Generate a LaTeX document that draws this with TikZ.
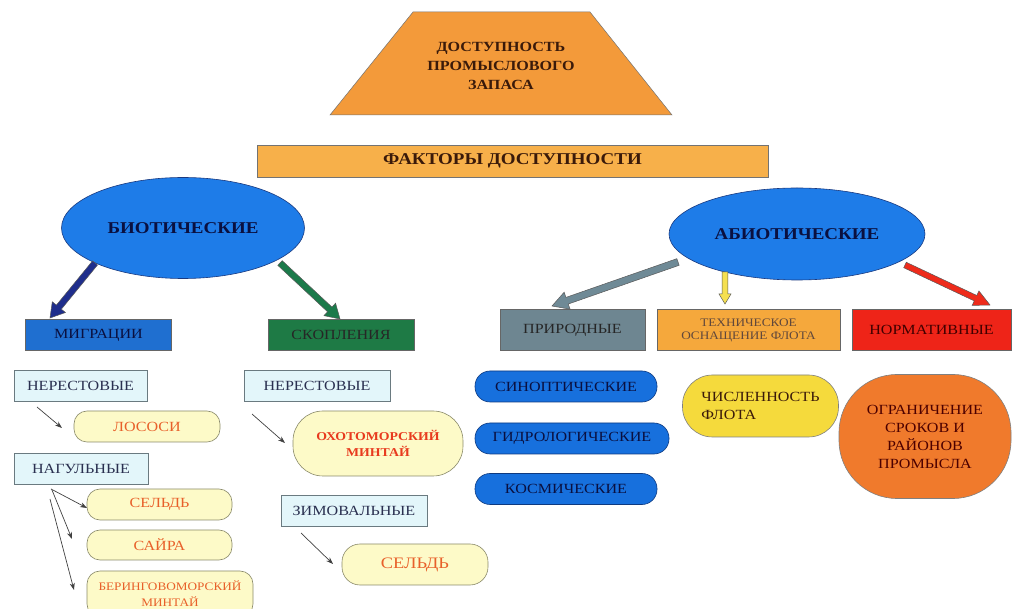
\documentclass[tikz,border=0pt]{standalone}
\usepackage{fontspec}
\setmainfont{Liberation Serif}[FakeStretch=1.15]
\usetikzlibrary{calc,arrows.meta,shapes.geometric}
\definecolor{trapfill}{HTML}{F39A3A}
\definecolor{barfill}{HTML}{F7B04A}
\definecolor{ellfill}{HTML}{1E7CE8}
\definecolor{elldraw}{HTML}{1A3A80}
\definecolor{navyarr}{HTML}{1F2E8C}
\definecolor{greenarr}{HTML}{1B7A4A}
\definecolor{greyarr}{HTML}{6F8A96}
\definecolor{yellarr}{HTML}{F5E050}
\definecolor{redarr}{HTML}{EE2B1B}
\definecolor{migfill}{HTML}{1F6FD0}
\definecolor{skofill}{HTML}{1E7A45}
\definecolor{prifill}{HTML}{6E8691}
\definecolor{techfill}{HTML}{F5A83C}
\definecolor{normfill}{HTML}{EE2418}
\definecolor{cyanfill}{HTML}{E3F6FA}
\definecolor{cyandraw}{HTML}{6A7A80}
\definecolor{lyfill}{HTML}{FDFAC8}
\definecolor{lydraw}{HTML}{8A8A6A}
\definecolor{bluestad}{HTML}{1770DD}
\definecolor{bluestaddraw}{HTML}{0E3A80}
\definecolor{numfill}{HTML}{F5DA3C}
\definecolor{limfill}{HTML}{F07A2C}
\definecolor{brown}{HTML}{3A1A0A}
\definecolor{navytxt}{HTML}{0A1040}
\definecolor{orangetxt}{HTML}{E8602A}
\definecolor{redtxt}{HTML}{E83A1E}
\definecolor{slatetxt}{HTML}{2A3050}
\newcommand\fatarrow[6]{%
  \coordinate (fatH) at ($(#2)!#6!(#1)$);
  \draw[fill=#3, draw=black!65, line width=0.5pt, line join=miter]
    ($(#1)!#4!90:(#2)$) -- ($(fatH)!#4!90:(#2)$) -- ($(fatH)!#5!90:(#2)$)
    -- (#2) -- ($(fatH)!#5!-90:(#2)$) -- ($(fatH)!#4!-90:(#2)$)
    -- ($(#1)!#4!-90:(#2)$) -- cycle;}
\begin{document}
\begin{tikzpicture}[x=1pt,y=-1pt,
  catbox/.style={draw=black!60, line width=0.5pt, inner sep=0pt, font=\fontsize{14}{16}\selectfont},
  cyanbox/.style={draw=cyandraw, fill=cyanfill, line width=0.6pt, inner sep=0pt, minimum height=31, text=slatetxt, font=\fontsize{14}{16}\selectfont},
  lybox/.style={draw=lydraw, fill=lyfill, line width=0.6pt, inner sep=0pt, rounded corners=13, minimum height=31, text=orangetxt, font=\fontsize{14}{16}\selectfont},
  bluebox/.style={draw=bluestaddraw, fill=bluestad, line width=0.6pt, inner sep=0pt, rounded corners=15, minimum height=31, text=navytxt, font=\fontsize{14}{16}\selectfont},
  smallarr/.style={draw=black!75, line width=0.7pt, -{Stealth[length=7pt,width=5pt]}},
  bigell/.style={ellipse, draw=elldraw, fill=ellfill, line width=0.6pt, inner sep=0pt, text=navytxt, font=\bfseries\fontsize{16.5}{18}\selectfont}
]
\useasboundingbox (0,0) rectangle (1013,609);
% top
\draw[fill=trapfill, draw=black!55, line width=0.5pt] (413,12) -- (590,12) -- (672,115) -- (330,115) -- cycle;
\node[align=center, text=brown, font=\bfseries\fontsize{14}{19}\selectfont] (top) at (501,66) {ДОСТУПНОСТЬ\\ПРОМЫСЛОВОГО\\ЗАПАСА};
\node[draw=black!55, fill=barfill, line width=0.5pt, minimum width=511, minimum height=32, inner sep=0pt, text=brown, font=\bfseries\fontsize{16.5}{18}\selectfont] (fac) at (512.5,161) {ФАКТОРЫ ДОСТУПНОСТИ};
% ellipses
\node[bigell, minimum width=243, minimum height=101] (bio) at (183,228) {БИОТИЧЕСКИЕ};
\node[bigell, minimum width=256, minimum height=92] (abio) at (797,234) {АБИОТИЧЕСКИЕ};
% category boxes
\node[catbox, fill=migfill, minimum width=146, minimum height=31, text=navytxt] (mig) at (98.5,335) {МИГРАЦИИ};
\node[catbox, fill=skofill, minimum width=146, minimum height=31, text=black!85] (sko) at (341,335) {СКОПЛЕНИЯ};
\node[catbox, fill=prifill, minimum width=145, minimum height=41, text=black!85] (pri) at (572.5,330) {ПРИРОДНЫЕ};
\node[catbox, fill=techfill, minimum width=183, minimum height=41, align=center, text=brown!80, font=\fontsize{11.5}{13}\selectfont] (tech) at (748.5,330) {ТЕХНИЧЕСКОЕ\\ОСНАЩЕНИЕ ФЛОТА};
\node[catbox, fill=normfill, minimum width=159, minimum height=41, text=black!75!red, font=\fontsize{14}{16}\selectfont] (norm) at (931.5,330) {НОРМАТИВНЫЕ};
% fat arrows
\coordinate (b1) at (95,263); \coordinate (m1) at (50,318);
\coordinate (b2) at (280,263); \coordinate (s1) at (340,319);
\coordinate (a1) at (678,262); \coordinate (p1) at (552,306);
\coordinate (a2) at (725,272); \coordinate (t1) at (725,304);
\coordinate (a3) at (905,265); \coordinate (n1) at (990,305);
\fatarrow{b1}{m1}{navyarr}{3.2pt}{8.5pt}{14pt}
\fatarrow{b2}{s1}{greenarr}{3.2pt}{8.5pt}{14pt}
\fatarrow{a1}{p1}{greyarr}{3.5pt}{9pt}{16pt}
\fatarrow{a2}{t1}{yellarr}{2.8pt}{6pt}{10pt}
\fatarrow{a3}{n1}{redarr}{3pt}{8pt}{16pt}
% left column
\node[cyanbox, minimum width=133] (ner1) at (80.5,386) {НЕРЕСТОВЫЕ};
\node[lybox, minimum width=146] (los) at (147,426.5) {ЛОСОСИ};
\node[cyanbox, minimum width=134] (nag) at (81,468.5) {НАГУЛЬНЫЕ};
\node[lybox, minimum width=145] (sel1) at (159.5,504.5) {СЕЛЬДЬ};
\node[lybox, minimum width=145, minimum height=30] (say) at (159.5,545) {САЙРА};
\node[lybox, minimum width=166, minimum height=46, align=center, font=\fontsize{11.5}{16}\selectfont] (ber) at (170,594) {БЕРИНГОВОМОРСКИЙ\\МИНТАЙ};
\coordinate (c1) at (37,407); \coordinate (c2) at (62,428);
\coordinate (c3) at (51,489); \coordinate (c4) at (87,508);
\coordinate (c5) at (52,490); \coordinate (c6) at (72,539);
\coordinate (c7) at (50,499); \coordinate (c8) at (74,590);
\draw[smallarr] (c1) -- (c2);
\draw[smallarr] (c3) -- (c4);
\draw[smallarr] (c5) -- (c6);
\draw[smallarr] (c7) -- (c8);
% middle column
\node[cyanbox, minimum width=146] (ner2) at (317,386) {НЕРЕСТОВЫЕ};
\node[lybox, minimum width=170, minimum height=65, rounded corners=30, align=center, text=redtxt, font=\bfseries\fontsize{12}{16}\selectfont] (okh) at (378,443.5) {ОХОТОМОРСКИЙ\\МИНТАЙ};
\node[cyanbox, minimum width=146] (zim) at (354,511) {ЗИМОВАЛЬНЫЕ};
\node[lybox, minimum width=146, minimum height=41, rounded corners=18, font=\fontsize{16}{18}\selectfont] (sel2) at (415,564.5) {СЕЛЬДЬ};
\coordinate (d1) at (252,414); \coordinate (d2) at (285,443);
\coordinate (d3) at (301,533); \coordinate (d4) at (333,564);
\draw[smallarr] (d1) -- (d2);
\draw[smallarr] (d3) -- (d4);
% right
\node[bluebox, minimum width=182] (sin) at (566,386.5) {СИНОПТИЧЕСКИЕ};
\node[bluebox, minimum width=194] (gid) at (572,438.5) {ГИДРОЛОГИЧЕСКИЕ};
\node[bluebox, minimum width=182] (kos) at (566,489) {КОСМИЧЕСКИЕ};
\node[draw=black!50, fill=numfill, line width=0.6pt, inner sep=0pt, rounded corners=30, minimum width=156, minimum height=62, align=left, text=brown, font=\fontsize{14}{18}\selectfont] (num) at (760.5,406) {ЧИСЛЕННОСТЬ\\ФЛОТА};
\node[draw=black!50, fill=limfill, line width=0.6pt, inner sep=0pt, rounded corners=58, minimum width=172, minimum height=124, align=center, text=black!70!red, font=\fontsize{14}{18}\selectfont] (lim) at (925,436.5) {ОГРАНИЧЕНИЕ\\СРОКОВ И\\РАЙОНОВ\\ПРОМЫСЛА};
\end{tikzpicture}
\end{document}
